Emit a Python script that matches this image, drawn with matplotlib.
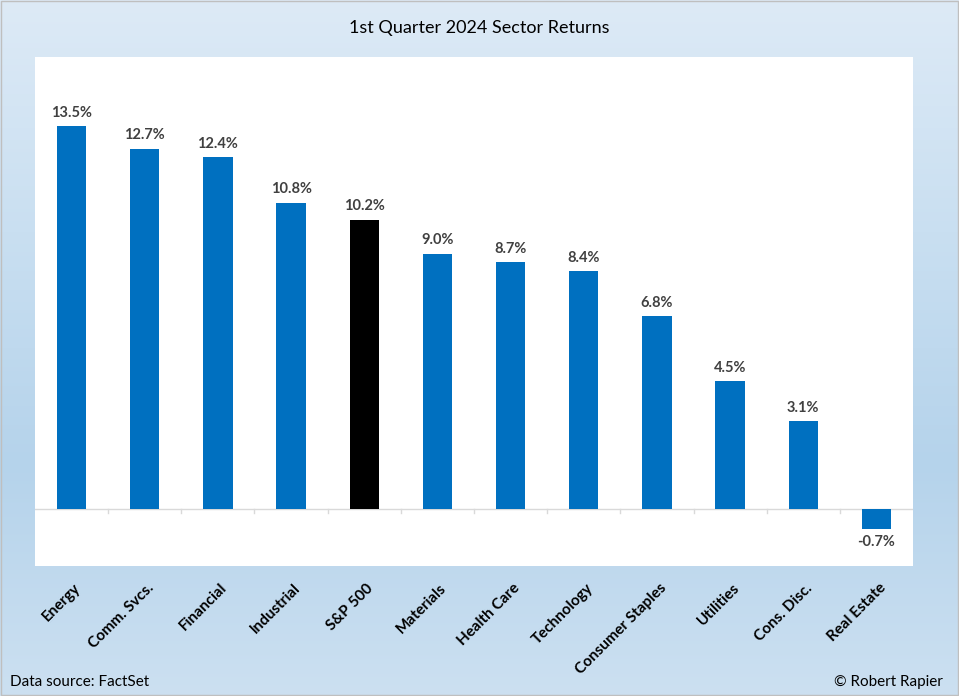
import matplotlib.pyplot as plt
import numpy as np
from matplotlib.colors import LinearSegmentedColormap

sectors = ['Energy', 'Comm. Svcs.', 'Financial', 'Industrial', 'S&P 500', 'Materials',
           'Health Care', 'Technology', 'Consumer Staples', 'Utilities', 'Cons. Disc.', 'Real Estate']
returns = [13.5, 12.7, 12.4, 10.8, 10.2, 9.0, 8.7, 8.4, 6.8, 4.5, 3.1, -0.7]
colors = ['#0070C0'] * len(sectors)
colors[sectors.index('S&P 500')] = '#000000'

plt.rcParams['font.family'] = ['Lato', 'DejaVu Sans']

W, H = 959, 696
fig = plt.figure(figsize=(W / 100, H / 100), dpi=100)

# gradient background
bg = fig.add_axes([0, 0, 1, 1])
cmap = LinearSegmentedColormap.from_list('bg', ['#DDEAF6', '#C9DFF1', '#B5D3EB', '#CCE0F1'])
grad = np.linspace(0, 1, 256).reshape(-1, 1)
bg.imshow(grad, aspect='auto', cmap=cmap, extent=[0, 1, 0, 1], origin='upper')
bg.set_xlim(0, 1)
bg.set_ylim(0, 1)
bg.axis('off')
bg.add_patch(plt.Rectangle((0.001, 0.001), 0.998, 0.997, fill=False, edgecolor='#BFBFBF', lw=1))

# plot area: x 35..913, y 57..566
ax = fig.add_axes([35 / W, 1 - 566 / H, (913 - 35) / W, (566 - 57) / H])
ax.set_facecolor('white')
x = np.arange(len(sectors))
ax.bar(x, returns, width=0.4, color=colors, zorder=3)
ax.set_xlim(-0.5, len(sectors) - 0.5)
ax.set_ylim(-2, 15.93)
ax.axhline(0, color='#D9D9D9', lw=1, zorder=2)
for b in np.arange(0.5, len(sectors) - 0.5, 1):
    ax.plot([b, b], [0, -0.15], color='#D9D9D9', lw=1, zorder=2)

for xi, v in zip(x, returns):
    if v >= 0:
        ax.text(xi, v + 0.22, f'{v:.1f}%', ha='center', va='bottom', fontsize=10.5,
                fontweight='bold', color='#404040')
    else:
        ax.text(xi, v - 0.22, f'{v:.1f}%', ha='center', va='top', fontsize=10.5,
                fontweight='bold', color='#404040')

ax.set_xticks([])
ax.set_yticks([])
for s in ax.spines.values():
    s.set_visible(False)

# rotated category labels below the plot area
for xi, name in zip(x, sectors):
    px = 35 + (xi + 0.5) * (913 - 35) / len(sectors) + 2
    fig.text(px / W, 1 - 581 / H, name, rotation=45, rotation_mode='anchor',
             ha='right', va='top', fontsize=11, fontweight='bold', color='black')

fig.text(0.5, 1 - 28 / H, '1st Quarter 2024 Sector Returns', ha='center', va='center',
         fontsize=13, color='black')
fig.text(10 / W, 1 - 682 / H, 'Data source: FactSet', ha='left', va='center',
         fontsize=11, color='black')
fig.text(943 / W, 1 - 682 / H, '© Robert Rapier', ha='right', va='center',
         fontsize=11, color='black')

fig.savefig('out.png', dpi=100)
